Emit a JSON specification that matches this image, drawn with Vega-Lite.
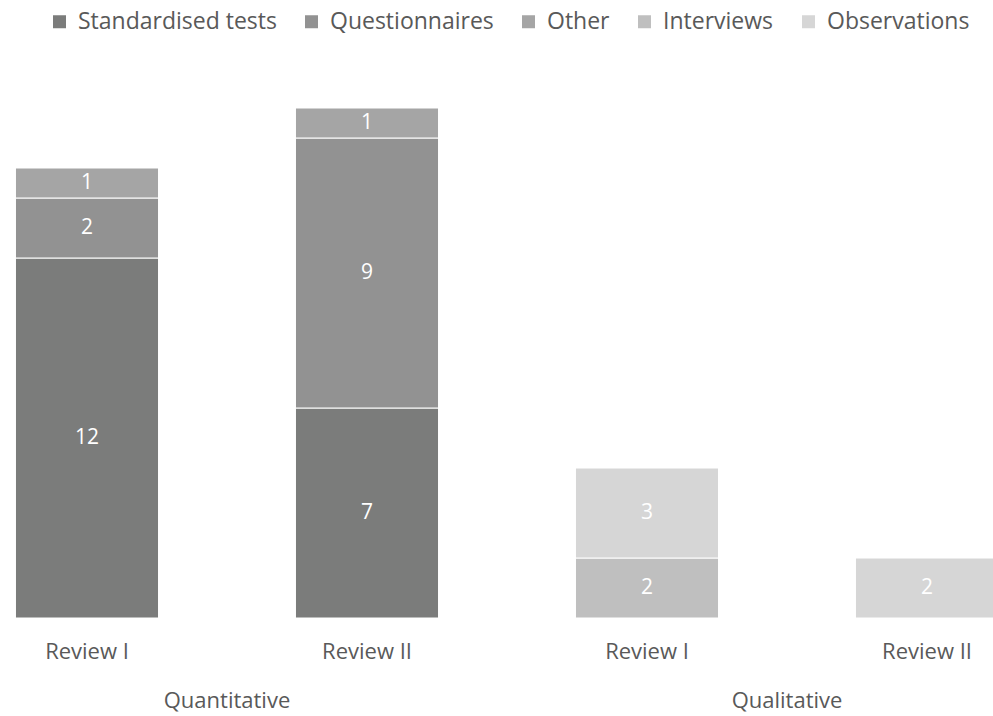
{
  "$schema": "https://vega.github.io/schema/vega-lite/v6.json",
  "width": 993,
  "height": 618,
  "padding": {"top": 0, "left": 0, "right": 0, "bottom": 98},
  "autosize": {"type": "none"},
  "background": "white",
  "config": {
    "font": "Open Sans",
    "view": {"stroke": null},
    "axis": {"labelFont": "Open Sans", "labelColor": "#595959", "labelFontSize": 22, "domain": false, "ticks": false, "grid": false, "title": null, "labelAngle": 0, "labelLimit": 0},
    "legend": {"labelFont": "Open Sans", "labelColor": "#595959", "labelFontSize": 23, "labelLimit": 0}
  },
  "layer": [
    {
      "data": {
        "values": [
          {"key": "Quantitative|Review I", "group": "Quantitative", "review": "Review I", "method": "Standardised tests", "ord": 1, "count": 12},
          {"key": "Quantitative|Review I", "group": "Quantitative", "review": "Review I", "method": "Questionnaires", "ord": 2, "count": 2},
          {"key": "Quantitative|Review I", "group": "Quantitative", "review": "Review I", "method": "Other", "ord": 3, "count": 1},
          {"key": "Quantitative|Review II", "group": "Quantitative", "review": "Review II", "method": "Standardised tests", "ord": 1, "count": 7},
          {"key": "Quantitative|Review II", "group": "Quantitative", "review": "Review II", "method": "Questionnaires", "ord": 2, "count": 9},
          {"key": "Quantitative|Review II", "group": "Quantitative", "review": "Review II", "method": "Other", "ord": 3, "count": 1},
          {"key": "Qualitative|Review I", "group": "Qualitative", "review": "Review I", "method": "Interviews", "ord": 4, "count": 2},
          {"key": "Qualitative|Review I", "group": "Qualitative", "review": "Review I", "method": "Observations", "ord": 5, "count": 3},
          {"key": "Qualitative|Review II", "group": "Qualitative", "review": "Review II", "method": "Observations", "ord": 5, "count": 2}
        ]
      },
      "transform": [
        {"stack": "count", "groupby": ["key"], "sort": [{"field": "ord"}], "as": ["y0", "y1"]},
        {"calculate": "(datum.y0 + datum.y1) / 2", "as": "ymid"}
      ],
      "encoding": {
        "x": {
          "field": "key", "type": "nominal",
          "sort": ["Quantitative|Review I", "Quantitative|Review II", "Qualitative|Review I", "Qualitative|Review II"],
          "scale": {"range": [-53, 1067], "paddingInner": 0.489, "paddingOuter": 0.2445},
          "axis": {"orient": "bottom", "labelExpr": "split(datum.label, '|')[1]", "labelPadding": 23}
        }
      },
      "layer": [
        {
          "mark": {"type": "bar", "stroke": "white", "strokeWidth": 1},
          "encoding": {
            "y": {"field": "y0", "type": "quantitative", "scale": {"domain": [0, 20.6], "nice": false}, "axis": null},
            "y2": {"field": "y1"},
            "color": {
              "field": "method", "type": "nominal",
              "scale": {
                "domain": ["Standardised tests", "Questionnaires", "Other", "Interviews", "Observations"],
                "range": ["#7b7c7b", "#929292", "#a5a5a5", "#bfbfbf", "#d6d6d6"]
              },
              "legend": {
                "title": null, "orient": "none", "legendX": 48, "legendY": 10, "direction": "horizontal",
                "symbolType": "square", "symbolSize": 169, "symbolStrokeWidth": 0, "labelOffset": 7, "columnPadding": 23
              }
            }
          }
        },
        {
          "mark": {"type": "text", "color": "white", "fontSize": 21, "font": "Open Sans", "baseline": "middle"},
          "encoding": {
            "y": {"field": "ymid", "type": "quantitative"},
            "text": {"field": "count", "type": "quantitative"}
          }
        }
      ]
    },
    {
      "data": {"values": [{"group": "Quantitative"}, {"group": "Qualitative"}]},
      "mark": {"type": "tick", "opacity": 0},
      "encoding": {
        "x": {
          "field": "group", "type": "nominal", "sort": ["Quantitative", "Qualitative"],
          "scale": {"range": [-53, 1067], "paddingInner": 0, "paddingOuter": 0},
          "axis": {"orient": "bottom", "labelPadding": 72}
        }
      }
    }
  ],
  "resolve": {"scale": {"x": "independent"}, "axis": {"x": "independent"}}
}
